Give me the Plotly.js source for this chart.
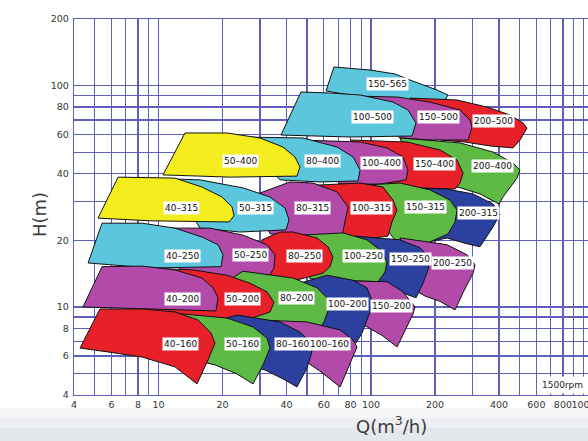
<!DOCTYPE html>
<html>
<head>
<meta charset="utf-8">
<script src="https://cdn.plot.ly/plotly-3.0.1.min.js"></script>
<style>html,body{margin:0;padding:0;background:#fff;}#chart{width:588px;height:441px;}</style>
</head>
<body>
<div id="chart"></div>
<script>
// Pump model names, in drawing order (upper rows first, right tiles first)
const tileNames = ['150-565','200-500','150-500','100-500','200-400','150-400','100-400','80-400','50-400',
  '200-315','150-315','100-315','80-315','50-315','40-315',
  '200-250','150-250','100-250','80-250','50-250','40-250',
  '150-200','100-200','80-200','50-200','40-200',
  '100-160','80-160','50-160','40-160'];

// Outline of each working range: flow Q (m3/h)
const tileQ = [
  [66.9,98.9,129.7,152.6,204.5,230.3,222.9,110.2,61.4],
  [152.6,254.0,351.5,451.0,519.1,542.1,502.5,465.9,363.1,276.9,211.3],
  [79.6,132.6,189.5,262.3,292.4,298.8,286.1,189.5,136.9],
  [46.8,64.1,88.8,126.9,149.3,162.8,155.9,79.6,37.7],
  [136.9,262.3,375.1,465.9,502.5,486.5,418.0,400.3,325.8,256.7,170.1],
  [79.6,147.7,211.3,254.0,271.0,262.3,248.5,170.1,122.8],
  [46.3,88.8,118.9,141.4,149.3,146.1,110.2,71.5],
  [24.17,47.83,69.2,82.3,88.8,86.9,57.5,37.29],
  [13.32,21.0,30.03,38.5,43.86,46.3,44.82,21.7,10.49],
  [152.6,227.8,302.0,375.1,404.6,375.1,325.8,276.9,227.8,189.5],
  [79.6,136.9,189.5,235.3,254.0,248.5,230.3,179.5,129.7],
  [46.3,88.8,113.9,126.9,132.6,125.5,120.2,88.8,64.1],
  [28.44,41.56,53.31,69.2,77.9,75.4,73.0,46.3,33.46],
  [11.32,15.67,24.97,33.46,39.37,41.11,39.8,24.17,15.67],
  [6.45,11.95,16.02,19.89,22.17,22.66,21.46,9.12,5.19],
  [136.9,227.8,283.0,308.6,302.0,271.0,248.5,211.3,179.5,161.1],
  [84.1,136.9,170.1,189.5,185.4,175.7,162.8,129.7,98.9],
  [46.3,73.8,95.7,110.2,118.9,116.4,107.9,71.5,51.6],
  [30.69,37.29,42.97,55.7,62.7,66.2,64.1,59.4,41.56,30.03],
  [11.32,17.47,24.97,32.39,35.33,34.95,30.03,19.46,12.62],
  [5.42,8.36,11.95,16.02,19.05,20.11,19.68,9.12,4.66],
  [79.6,118.9,141.4,161.1,157.6,143.0,132.6,113.9,96.8,84.1],
  [46.3,62.1,82.3,95.7,101.1,98.9,90.7,85.0,67.7,51.6],
  [22.17,24.97,42.97,55.7,62.1,63.4,60.1,56.3,41.56,26.94,22.9],
  [8.64,14.53,21.0,26.94,32.39,34.95,33.46,24.17,15.67,9.12],
  [5.42,8.36,11.95,16.02,18.04,19.05,18.64,9.12,4.41],
  [30.03,49.95,71.5,82.3,85.9,77.9,71.5,57.5,48.88,37.29],
  [19.46,23.4,37.29,46.3,51.6,52.73,49.95,44.82,39.37,31.7,21.7],
  [9.12,15.67,21.0,27.83,32.39,33.46,31.02,27.83,23.4,18.44,12.62,9.12],
  [5.30,8.36,11.95,15.34,17.66,18.44,17.09,15.17,11.95,8.36,5.78,4.27]
];

// Outline of each working range: head H (m)
const tileH = [
  [121.4,117.6,112.9,106.0,95.5,90.7,86.1,86.1,94.6],
  [87.9,86.1,80.0,73.7,67.8,64.3,56.8,52.3,53.4,55.6,56.8],
  [89.8,88.8,84.3,77.6,69.9,65.0,56.8,56.8,58.0],
  [93.6,92.6,90.7,84.3,77.6,67.8,59.2,58.6,59.8],
  [58.0,55.1,50.1,44.7,41.6,38.2,31.4,29.2,32.4,34.8,33.8],
  [56.8,55.6,51.2,46.1,40.3,36.3,34.1,34.5,35.2],
  [56.8,55.6,52.3,47.6,41.6,37.5,35.9,35.9],
  [58.6,58.0,52.8,47.6,41.6,37.1,36.7,37.5],
  [61.1,61.1,58.0,52.8,47.6,42.9,39.0,38.6,39.5],
  [34.5,34.1,32.4,29.2,26.3,23.0,18.7,19.4,20.5,19.7],
  [35.2,36.3,33.8,30.4,27.4,24.2,21.4,19.2,20.1],
  [35.2,36.3,34.8,30.4,27.4,24.2,20.9,20.1,20.5],
  [32.1,36.7,36.3,33.1,28.3,23.9,20.9,20.9,21.4],
  [37.9,37.5,34.5,31.4,28.0,24.7,22.3,21.8,22.7],
  [38.6,38.2,34.8,31.4,28.3,25.8,24.2,24.5,25.2],
  [20.5,19.1,17.2,15.5,14.2,11.6,9.69,10.6,11.2,11.9],
  [20.9,20.1,18.5,16.6,14.7,12.8,11.0,11.9,12.8],
  [21.1,21.6,20.1,18.1,16.0,14.4,13.0,13.2,13.4],
  [20.1,21.8,21.8,20.5,18.7,16.8,15.2,14.2,13.0,12.6],
  [22.7,22.7,21.1,19.1,17.2,15.0,11.9,13.2,14.4],
  [23.9,23.9,22.7,20.7,19.1,17.2,15.2,15.0,15.8],
  [13.1,13.0,11.7,10.0,9.29,7.62,6.59,7.39,8.12,8.73],
  [12.8,13.9,13.2,12.2,10.7,9.49,7.62,6.87,7.24,7.70],
  [13.5,14.5,13.5,12.2,11.0,9.89,8.55,7.87,7.70,7.87,8.55],
  [15.0,14.7,13.9,12.8,11.7,10.5,9.49,8.55,8.91,9.49],
  [15.2,15.3,14.7,13.5,12.2,11.0,9.59,9.79,10.0],
  [8.73,8.55,7.87,7.09,6.59,5.30,4.35,5.13,5.70,5.64],
  [8.73,9.19,8.55,7.70,6.94,6.26,5.30,4.35,4.68,5.19,5.64],
  [9.59,9.10,8.91,8.12,7.24,6.52,5.47,4.49,4.98,5.47,6.00,6.39],
  [9.79,9.79,9.49,8.73,7.62,6.87,5.76,4.49,5.36,5.94,6.26,6.52]
];

// Where each model name is written
const labelQ = [118.9,379,206.9,101.1,371,200,112.6,58.8,24.4,
  319,179.5,100,53.3,28.7,12.8,
  243,152.6,91.7,48.88,26.94,12.9,
  125.5,77.9,44.82,24.97,12.9,
  64.1,42.5,24.97,12.62];
const labelH = [101.7,69.2,72.1,72.1,43.3,44.3,44.7,45.6,45.6,
  26.6,28.3,28.0,28.0,28.0,28.0,
  15.8,16.5,17.0,17.0,17.2,17.0,
  10.1,10.3,11.0,10.86,10.86,
  6.80,6.80,6.80,6.80];

// Axis grid values and tick labels
const xGrid = [4,5,6,7,8,9,10,20,30,40,50,60,70,80,90,100,200,300,400,500,600,700,800,900,1000];
const xTickText = ['4',' ','6',' ','8',' ','10','20',' ','40',' ','60',' ','80',' ','100','200',' ','400',' ','600',' ','800',' ','1000'];
const yGrid = [4,5,6,7,8,9,10,20,30,40,50,60,70,80,90,100,200];
const yTickText = ['4',' ','6',' ','8',' ','10','20',' ','40',' ','60',' ','80',' ','100','200'];

// Styling (kept apart from data)
const PAL = {Y:'#f3ed1d', C:'#5cc7dc', M:'#b14aa9', R:'#e8202a', G:'#5eba45', B:'#2c419f'};
const tileColorKey = ['C','R','M','C','G','R','M','C','Y',
  'B','G','R','M','C','Y',
  'M','B','G','R','M','C',
  'M','B','G','R','M',
  'M','B','G','R'];
const GRID = '#5d5dba';
const FONT = 'DejaVu Sans, Verdana, sans-serif';

const traces = tileNames.map((name, i) => ({
  type: 'scatter',
  mode: 'lines',
  x: tileQ[i].concat([tileQ[i][0]]),
  y: tileH[i].concat([tileH[i][0]]),
  fill: 'toself',
  fillcolor: PAL[tileColorKey[i]],
  line: {color: '#111', width: 1},
  hoverinfo: 'text',
  text: name,
  showlegend: false
}));

const annotations = tileNames.map((name, i) => ({
  x: Math.log10(labelQ[i]),
  y: Math.log10(labelH[i]),
  xref: 'x', yref: 'y',
  xanchor: 'center', yanchor: 'middle',
  text: name.replace('-', '–'),
  showarrow: false,
  font: {family: FONT, size: 9, color: '#111'},
  bgcolor: '#ffffff',
  borderpad: 1
}));

annotations.push({
  xref: 'paper', yref: 'paper', x: 0.951, y: 0.0266,
  xanchor: 'center', yanchor: 'middle',
  text: '1500rpm', showarrow: false,
  font: {family: FONT, size: 9, color: '#222'},
  bgcolor: '#ffffff', borderpad: 3
});
annotations.push({
  xref: 'paper', yref: 'paper', x: -0.066, y: 0.479,
  xanchor: 'center', yanchor: 'middle',
  text: 'H(m)', textangle: -90, showarrow: false,
  font: {family: FONT, size: 18, color: '#3c3c3c'}
});
annotations.push({
  xref: 'paper', yref: 'paper', x: 0.617, y: -0.08,
  xanchor: 'center', yanchor: 'middle',
  text: 'Q(m<sup>3</sup>/h)', showarrow: false,
  font: {family: FONT, size: 18, color: '#3c3c3c'}
});

const layout = {
  width: 588, height: 441,
  margin: {l: 74, r: 0, t: 19, b: 46},
  paper_bgcolor: '#ffffff',
  plot_bgcolor: '#ffffff',
  showlegend: false,
  xaxis: {
    type: 'log',
    range: [Math.log10(4), Math.log10(1050)],
    tickmode: 'array', tickvals: xGrid, ticktext: xTickText,
    tickangle: 0,
    showgrid: true, gridcolor: GRID, gridwidth: 1.2,
    showline: true, linecolor: GRID, linewidth: 1.2, mirror: true,
    zeroline: false, ticks: '',
    ticklabeloverflow: 'allow',
    tickfont: {family: FONT, size: 9.5, color: '#333'}
  },
  yaxis: {
    type: 'log',
    range: [Math.log10(4), Math.log10(200)],
    tickmode: 'array', tickvals: yGrid, ticktext: yTickText,
    showgrid: true, gridcolor: GRID, gridwidth: 1.2,
    showline: true, linecolor: GRID, linewidth: 1.2,
    zeroline: false, ticks: '',
    ticklabelstandoff: 2,
    tickfont: {family: FONT, size: 9.5, color: '#333'}
  },
  shapes: [
    {type:'rect', xref:'paper', yref:'paper', x0:-0.2, x1:1.05, y0:-0.061, y1:-0.035, fillcolor:'#f5f6f8', line:{width:0}, layer:'below'},
    {type:'rect', xref:'paper', yref:'paper', x0:-0.2, x1:1.05, y0:-0.088, y1:-0.061, fillcolor:'#eceef2', line:{width:0}, layer:'below'},
    {type:'rect', xref:'paper', yref:'paper', x0:-0.2, x1:1.05, y0:-0.14, y1:-0.088, fillcolor:'#e4e7ec', line:{width:0}, layer:'below'}
  ],
  annotations: annotations
};

Plotly.newPlot('chart', traces, layout, {displayModeBar: false, staticPlot: true});
</script>
</body>
</html>
